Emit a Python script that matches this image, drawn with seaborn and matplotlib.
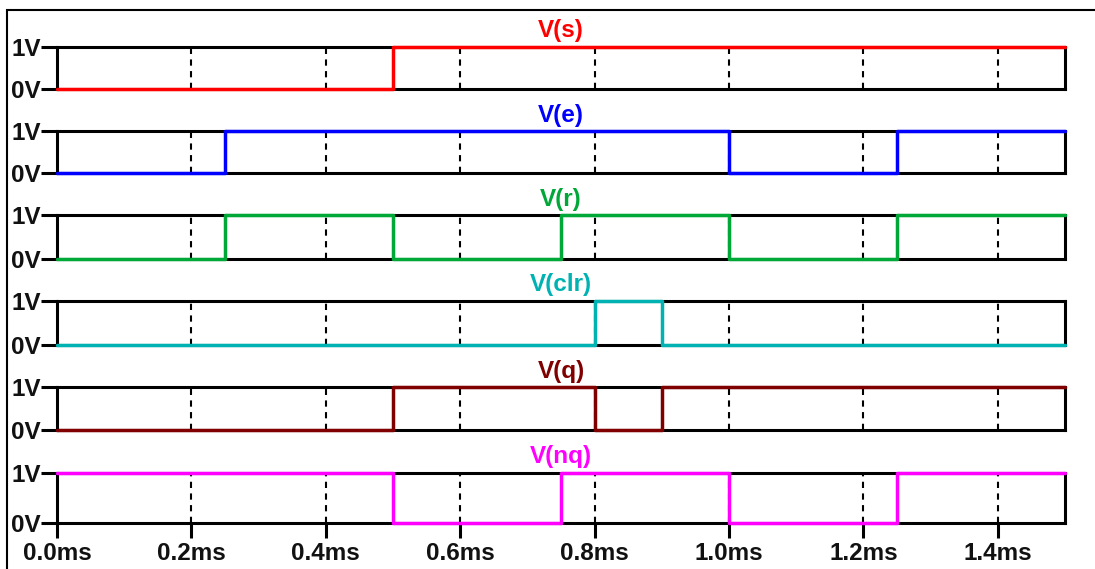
import matplotlib
matplotlib.use("Agg")
import matplotlib.pyplot as plt
import seaborn as sns
from matplotlib.patches import Rectangle

# Transient traces: switching times (ms) and logic levels (V), step-post
names = ["V(s)", "V(e)", "V(r)", "V(clr)", "V(q)", "V(nq)"]
colors = ["#ff0000", "#0000ff", "#00a838", "#00b2b2", "#800000", "#ff00ff"]

s_t = [0.0, 0.5, 1.5]
s_v = [0, 1, 1]
e_t = [0.0, 0.25, 1.0, 1.25, 1.5]
e_v = [0, 1, 0, 1, 1]
r_t = [0.0, 0.25, 0.5, 0.75, 1.0, 1.25, 1.5]
r_v = [0, 1, 0, 1, 0, 1, 1]
clr_t = [0.0, 0.8, 0.9, 1.5]
clr_v = [0, 1, 0, 0]
q_t = [0.0, 0.5, 0.8, 0.9, 1.5]
q_v = [0, 1, 0, 1, 1]
nq_t = [0.0, 0.5, 0.75, 1.0, 1.25, 1.5]
nq_v = [1, 0, 1, 0, 1, 1]

times = [s_t, e_t, r_t, clr_t, q_t, nq_t]
levels = [s_v, e_v, r_v, clr_v, q_v, nq_v]

x_ticks = [0.0, 0.2, 0.4, 0.6, 0.8, 1.0, 1.2, 1.4]
x_labels = ["0.0ms", "0.2ms", "0.4ms", "0.6ms", "0.8ms", "1.0ms", "1.2ms", "1.4ms"]
y_ticks = [0, 1]
y_labels = ["0V", "1V"]

sns.set_theme(style="white")
plt.rcParams["font.family"] = ["Liberation Sans", "DejaVu Sans"]

W, H = 1095, 569
fig = plt.figure(figsize=(W / 100, H / 100), dpi=100)
fig.patch.set_facecolor("white")

# pane extents in pixels (top, bottom)
panes = [(46.5, 88.5), (131, 172.5), (215, 258.5), (300.5, 345), (387, 430), (472.5, 523)]
left_px, right_px = 57, 1065

fs = 17.5
for i, (name, col, t, v) in enumerate(zip(names, colors, times, levels)):
    top, bot = panes[i]
    ax = fig.add_axes([left_px / W, 1 - bot / H, (right_px - left_px) / W, (bot - top) / H])
    sns.lineplot(x=t, y=v, ax=ax, color=col, linewidth=2.5, drawstyle="steps-post",
                 estimator=None, sort=False, clip_on=False, zorder=5)
    ax.set_xlim(0, 1.5)
    ax.set_ylim(0, 1)
    ax.set_xlabel("")
    ax.set_ylabel("")
    for sp in ax.spines.values():
        sp.set_visible(True)
        sp.set_color("black")
        sp.set_linewidth(2.2)
    ax.set_xticks(x_ticks)
    ax.grid(True, axis="x", color="black", linestyle=(0, (3, 2.6)), linewidth=1.5)
    ax.grid(False, axis="y")
    ax.set_yticks(y_ticks)
    ax.set_yticklabels(y_labels, fontsize=fs, fontweight="bold", color="#111111")
    ax.tick_params(axis="y", length=11.5, width=2.2, pad=0.3, direction="out", color="black", left=True)
    if i == len(names) - 1:
        ax.set_xticklabels(x_labels, fontsize=fs, fontweight="bold", color="#111111")
        ax.tick_params(axis="x", length=11, width=2.2, pad=2.5, direction="out", color="black", bottom=True)
    else:
        ax.set_xticklabels([])
        ax.tick_params(axis="x", length=0, bottom=False)
    ax.set_title(name, color=col, fontweight="bold", fontsize=fs, pad=6.5)

# outer frame of the plot window
fig.patches.append(Rectangle((7 / W, -0.2), 2.0, (1 - 10 / H) + 0.2, transform=fig.transFigure,
                             fill=False, edgecolor="black", linewidth=1.5, zorder=0))

fig.savefig("out.png", dpi=100)
